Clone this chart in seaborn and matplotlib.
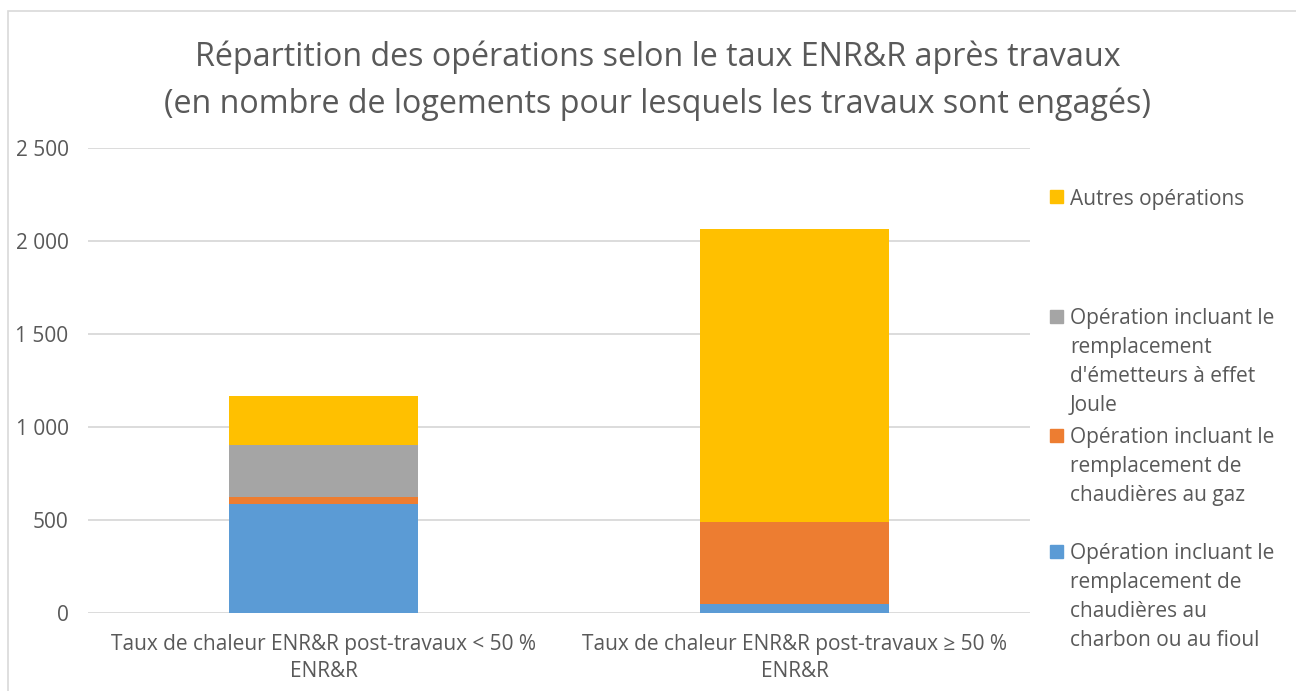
import matplotlib
matplotlib.use("Agg")
import matplotlib.pyplot as plt
import matplotlib.patches as mpatches
import pandas as pd
import seaborn as sns

# data
categories = ["Taux de chaleur ENR&R post-travaux < 50 %\nENR&R",
              "Taux de chaleur ENR&R post-travaux \u2265 50 %\nENR&R"]
charbon_fioul = [584, 48]
gaz = [39, 442]
joule = [282, 0]
autres = [264, 1576]

series_names = ["Op\u00e9ration incluant le\nremplacement de\nchaudi\u00e8res au\ncharbon ou au fioul",
                "Op\u00e9ration incluant le\nremplacement de\nchaudi\u00e8res au gaz",
                "Op\u00e9ration incluant le\nremplacement\nd'\u00e9metteurs \u00e0 effet\nJoule",
                "Autres op\u00e9rations"]
series_values = [charbon_fioul, gaz, joule, autres]
colors = ["#5B9BD5", "#ED7D31", "#A5A5A5", "#FFC000"]

sns.set_style("white")
plt.rcParams["font.family"] = ["Open Sans", "DejaVu Sans"]
txt = "#595959"

W, H = 1296, 691
fig = plt.figure(figsize=(W / 100, H / 100), dpi=100)
ax = fig.add_axes([88 / W, (H - 612.7) / H, 942 / W, 464.4 / H])

bottom = [0, 0]
for name, vals, col in zip(series_names, series_values, colors):
    df = pd.DataFrame({"cat": categories, "val": vals})
    sns.barplot(data=df, x="cat", y="val", color=col, width=0.4,
                bottom=bottom, ax=ax, saturation=1, linewidth=0, zorder=3)
    bottom = [b + v for b, v in zip(bottom, vals)]

ax.set_xlim(-0.5, 1.5)
ax.set_ylim(0, 2500)
ax.set_yticks(range(0, 2501, 500))
ax.set_yticklabels([f"{v:,}".replace(",", " ") for v in range(0, 2501, 500)])
ax.yaxis.grid(True, color="#D9D9D9", lw=1.3, zorder=0)
ax.set_axisbelow(True)
for s in ax.spines.values():
    s.set_visible(False)
ax.set_xlabel("")
ax.set_ylabel("")
ax.tick_params(axis="y", length=0, pad=14, labelsize=15, labelcolor=txt)
ax.tick_params(axis="x", length=0, pad=15, labelsize=15, labelcolor=txt)
for t in ax.get_xticklabels():
    t.set_linespacing(1.4)

fig.text(658 / W, 1 - 41 / H,
         "R\u00e9partition des op\u00e9rations selon le taux ENR&R apr\u00e8s travaux\n"
         "(en nombre de logements pour lesquels les travaux sont engag\u00e9s)",
         ha="center", va="top", fontsize=23.2, color=txt, linespacing=1.52)

# legend, Excel style: top entry first, one fixed slot per entry
slot_y = [551, 435, 316, 197]
for name, col, y in zip(series_names, colors, slot_y):
    fig.patches.append(mpatches.Rectangle((1050 / W, 1 - (y + 6.5) / H), 13 / W, 13 / H,
                                          transform=fig.transFigure, color=col))
    fig.text(1070 / W, 1 - (y - 8) / H, name, ha="left", va="top",
             fontsize=15, color=txt, linespacing=1.5)

# chart area border
fig.patches.append(mpatches.Rectangle((8 / W, -0.05), 1.2, 1 - 11 / H + 0.05,
                                      transform=fig.transFigure, fill=False,
                                      edgecolor="#D9D9D9", lw=1.2))

fig.savefig("out.png", dpi=100)
